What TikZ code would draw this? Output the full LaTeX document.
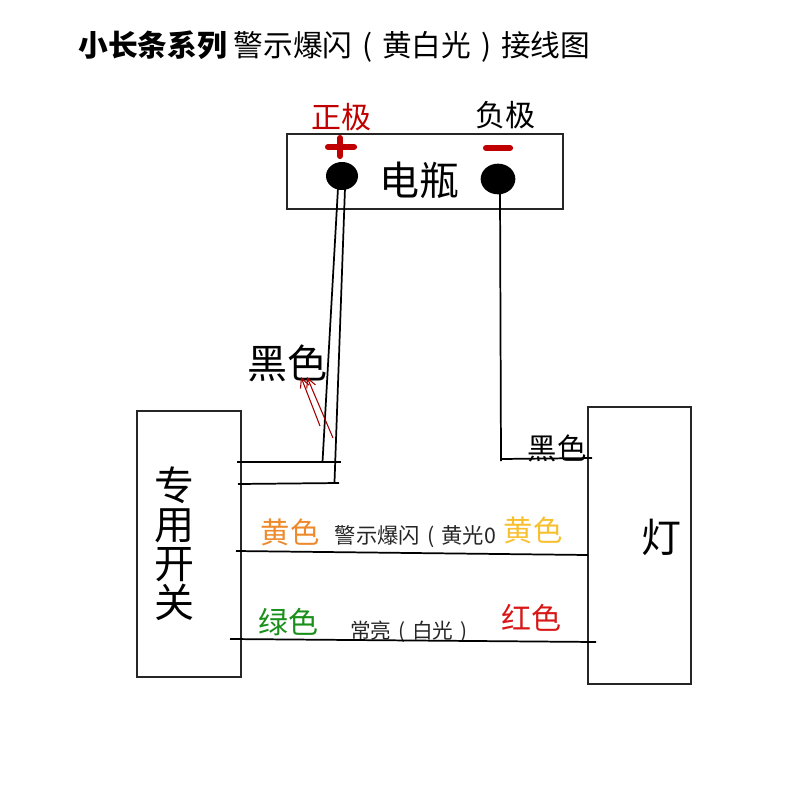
\documentclass[tikz,border=0pt]{standalone}
\usepackage{fontspec}
\setmainfont{Noto Sans CJK SC}
\usepackage{tikz}
\usetikzlibrary{calc}
\usetikzlibrary{shapes}
\usetikzlibrary{arrows.meta}
\definecolor{plusred}{HTML}{C00000}
\definecolor{lblorange}{HTML}{EE8A2C}
\definecolor{lblyellow}{HTML}{F8C030}
\definecolor{lblgreen}{HTML}{1A8F1A}
\definecolor{lblred}{HTML}{D81818}
\tikzset{
  box/.style={draw=black!85, line width=1.4pt, inner sep=0pt},
  wire/.style={draw=black, line width=1.3pt},
  terminal/.style={shape=ellipse, fill=black, draw=none, inner sep=0pt},
  polebar/.style={draw=plusred, line width=4.6pt, line cap=round},
  pointer/.style={draw=plusred!85!black, line width=0.8pt, -{Straight Barb[length=7pt,width=7pt]}},
  lbl/.style={inner sep=0pt, anchor=center}
}
\newcommand{\boxnode}[6]{\node[box, minimum width=#4*0.75pt, minimum height=#5*0.75pt] (#1) at ( #2 , #3 ) {#6};}
\newcommand{\lblnode}[6]{\node[lbl, text=#5, font=\fontsize{#4}{#4}\selectfont] (#1) at ( #2 , #3 ) {#6};}
\newcommand{\pnt}[3]{\coordinate (#1) at ( #2 , #3 );}
% brackets that stand in the middle of their square
\newcommand{\lbr}{\makebox[1em][c]{(}}
\newcommand{\rbr}{\makebox[1em][c]{)}}
\begin{document}
\begin{tikzpicture}[x=0.75pt,y=-0.75pt]
        \useasboundingbox (0,0) rectangle (800,800);

        % title
        \node[lbl, anchor=west, font=\fontsize{22.3}{22.3}\selectfont] (title) at (78,47) {\textbf{小长条系列} 警示爆闪\lbr 黄白光\rbr 接线图};

        % battery
        \boxnode{battery}{425}{171.5}{276}{75}{}
        \node[terminal, minimum width=24pt, minimum height=21pt] (pos) at (342,176) {};
        \node[terminal, minimum width=26pt, minimum height=23pt] (neg) at (498,179) {};
        \draw[polebar] (328,147) -- (354,147);
        \draw[polebar] (340,138) -- (340,156);
        \draw[polebar] (486,148) -- (510,148);
        \lblnode{batterylbl}{419}{180}{30}{black}{电瓶}
        \lblnode{poslbl}{341}{117}{22.5}{plusred}{正极}
        \lblnode{neglbl}{505}{115}{22.5}{black}{负极}

        % switch and lamp
        \boxnode{switch}{189}{544}{104}{266}{}
        \boxnode{lamp}{639.5}{545.5}{103}{277}{}
        \node[lbl, font=\fontsize{30}{29.2}\selectfont, align=center, text width=30pt] (switchlbl) at (174,544) {专\\用\\开\\关};
        \lblnode{lamplbl}{661}{537}{30}{black}{灯}

        % end points
        \pnt{posa}{338}{188}
        \pnt{posb}{345}{188}
        \pnt{enda}{322.5}{462}
        \pnt{endb}{334.5}{482}
        \pnt{lefta}{237}{462}
        \pnt{righta}{341}{462}
        \pnt{leftb}{238}{484}
        \pnt{rightb}{339}{483}
        \pnt{negtop}{500}{190}
        \pnt{negend}{501}{461}
        \pnt{blacka}{501}{459}
        \pnt{blackb}{592}{458}
        \pnt{yellowa}{236}{551}
        \pnt{yellowb}{588}{555}
        \pnt{greena}{230}{639}
        \pnt{greenb}{596}{642}
        \pnt{ptra}{320}{426}
        \pnt{ptrb}{301}{377}
        \pnt{ptrc}{333}{438}
        \pnt{ptrd}{307}{377}

        % labels under the wires
        \lblnode{blackone}{287}{363}{30}{black}{黑色}
        \lblnode{blacktwo}{557}{448}{22}{black}{黑色}
        \lblnode{yellowl}{290}{532}{22}{lblorange}{黄色}
        \lblnode{yellowr}{533}{530}{22}{lblyellow}{黄色}
        \lblnode{greenl}{288}{622}{22.5}{lblgreen}{绿色}
        \lblnode{redr}{531}{618}{22.5}{lblred}{红色}
        \lblnode{flash}{415.5}{537}{16}{black!85}{警示爆闪\lbr 黄光0}
        \lblnode{steady}{412}{632}{15.5}{black!85}{常亮\lbr 白光\rbr}

        % wires
        \draw[wire] (posa) -- (enda);
        \draw[wire] (posb) -- (endb);
        \draw[wire] (lefta) -- (righta);
        \draw[wire] (leftb) -- (rightb);
        \draw[wire] (negtop) -- (negend);
        \draw[wire] (blacka) -- (blackb);
        \draw[wire] (yellowa) -- (yellowb);
        \draw[wire] (greena) -- (greenb);

        % red arrows
        \draw[pointer] (ptra) -- (ptrb);
        \draw[pointer] (ptrc) -- (ptrd);

    \end{tikzpicture}
\end{document}
